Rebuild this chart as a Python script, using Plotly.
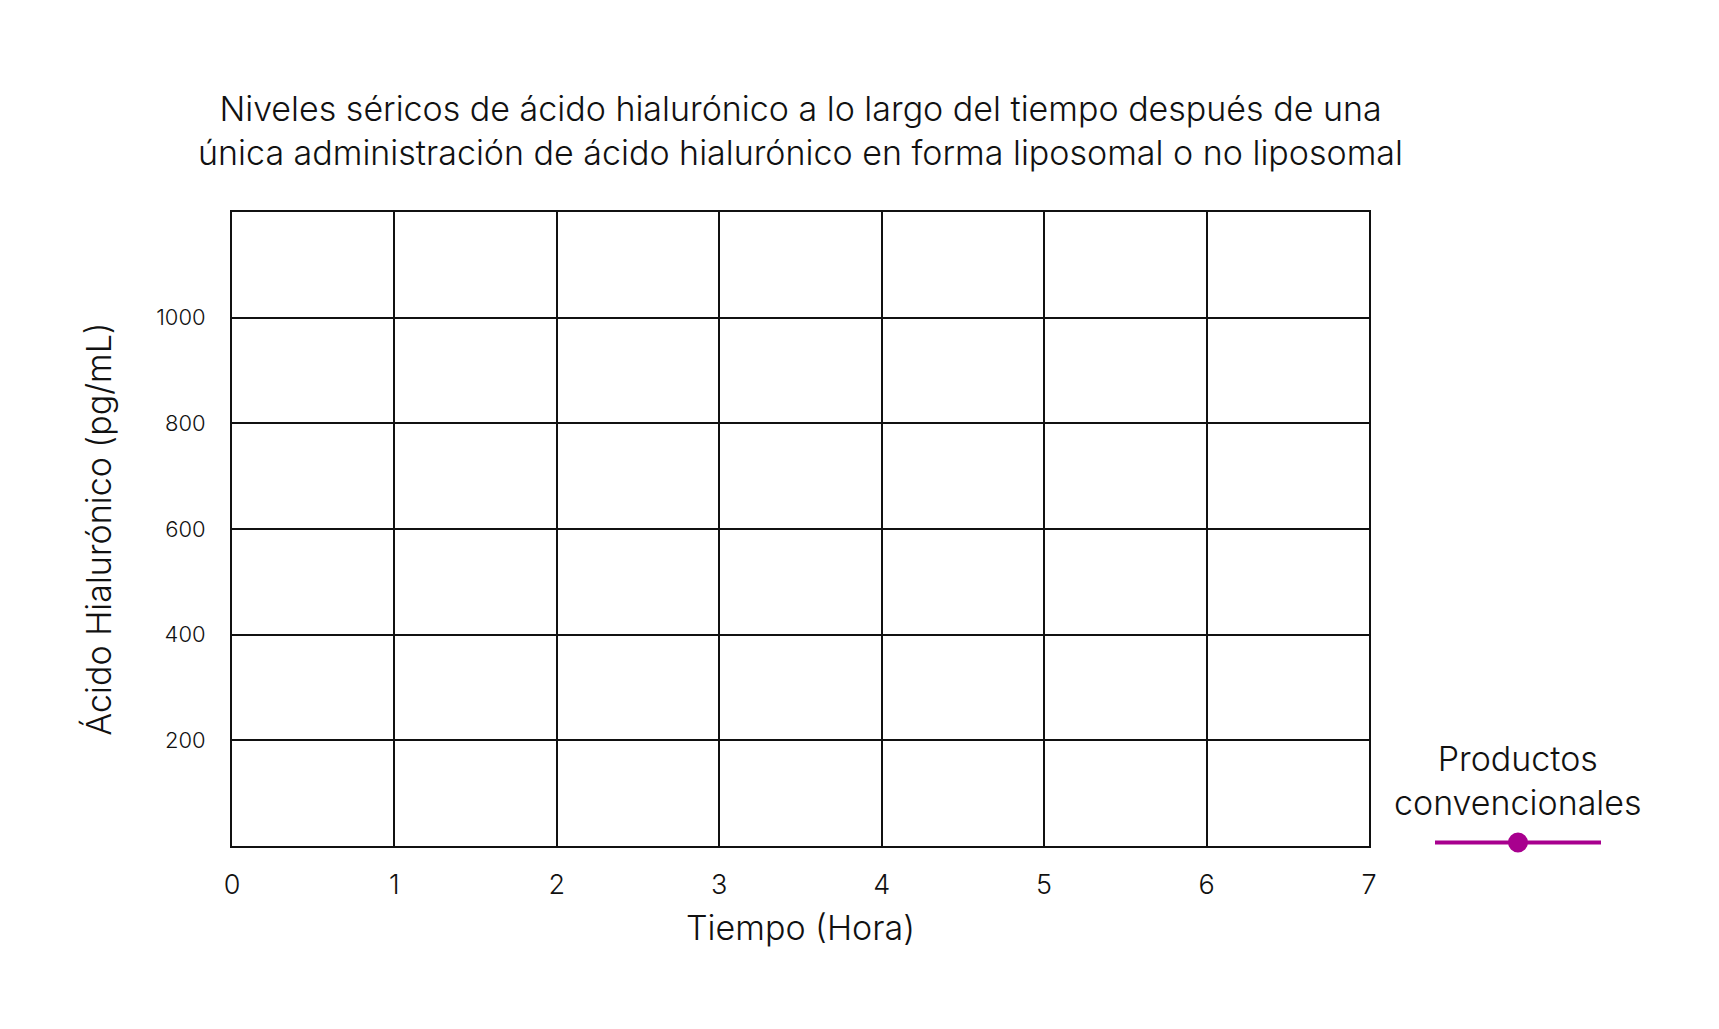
import plotly.graph_objects as go

# Data
tiempo_horas = [0, 1, 2, 3, 4, 5, 6, 7]
productos_convencionales = [None, None, None, None, None, None, None, None]
x_ticks = [0, 1, 2, 3, 4, 5, 6, 7]
y_ticks = [200, 400, 600, 800, 1000]

FONT = "Inter"
MAGENTA = "#A8008E"
INK = "#111111"

fig = go.Figure()
fig.add_trace(go.Scatter(
    x=tiempo_horas, y=productos_convencionales,
    mode="lines+markers", name="",
    line=dict(color=MAGENTA, width=4),
    marker=dict(color=MAGENTA, size=16, line=dict(color=MAGENTA, width=4)),
    showlegend=True,
))

fig.update_layout(
    width=1719, height=1029,
    margin=dict(l=224, r=358, t=204, b=191),
    paper_bgcolor="white", plot_bgcolor="white",
    font=dict(family=FONT, color=INK, weight=300),
    title=dict(
        text="Niveles séricos de ácido hialurónico a lo largo del tiempo después de una<br>única administración de ácido hialurónico en forma liposomal o no liposomal",
        x=(224 + 1361) / 2 / 1719, xanchor="center",
        y=1 - 113 / 1029, yanchor="middle",
        font=dict(size=34, family=FONT, color=INK, weight=300),
    ),
    xaxis=dict(
        range=[0, 7], tickvals=x_ticks, ticks="",
        showgrid=True, gridcolor=INK, gridwidth=2,
        showline=True, linecolor=INK, linewidth=2, mirror=True,
        zeroline=False,
        tickfont=dict(size=27, family=FONT, weight=300),
        ticklabelstandoff=14,
        title=dict(text="Tiempo (Hora)", font=dict(size=34, family=FONT, weight=300), standoff=16),
    ),
    yaxis=dict(
        range=[0, 1200], tickvals=y_ticks, ticks="",
        showgrid=True, gridcolor=INK, gridwidth=2,
        showline=True, linecolor=INK, linewidth=2, mirror=True,
        zeroline=False,
        tickfont=dict(size=22, family=FONT, weight=300),
        ticklabelstandoff=20,
        title=dict(text="Ácido Hialurónico (pg/mL)", font=dict(size=34, family=FONT, weight=300), standoff=34),
    ),
    legend=dict(
        x=(1422 - 224) / 1137, xanchor="left",
        y=-11 / 634, yanchor="bottom",
        itemwidth=166,
        bgcolor="rgba(0,0,0,0)",
    ),
    annotations=[dict(
        text="Productos<br>convencionales",
        xref="paper", yref="paper",
        x=(1510 - 224) / 1137, xanchor="center",
        y=(838 - 772) / 634, yanchor="middle",
        showarrow=False, align="center",
        font=dict(size=34, family=FONT, color=INK, weight=300),
    )],
)

fig.write_html("out.html")
